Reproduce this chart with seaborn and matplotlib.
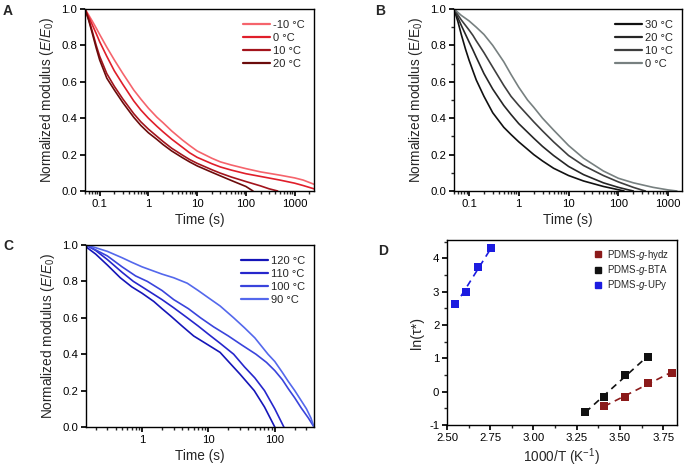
import matplotlib

matplotlib.use("Agg")
import matplotlib.pyplot as plt
from matplotlib.lines import Line2D
from matplotlib.ticker import LogLocator, MultipleLocator, FixedLocator, NullFormatter
import numpy as np
import pandas as pd
import seaborn as sns

# === Panel A: stress relaxation, PDMS-g-hydz ===
A_LABELS = ["-10 °C", "0 °C", "10 °C", "20 °C"]
A_COLORS = ["#f5646c", "#e01e2a", "#a3141c", "#6b0b0b"]
A_TIME = [
    [0.05, 0.06, 0.07, 0.085, 0.1, 0.14, 0.2, 0.3, 0.5, 0.7, 1, 1.5, 2, 3, 5, 7, 10, 20, 30, 50,
     100, 200, 500, 1000, 1500, 2500],
    [0.05, 0.06, 0.07, 0.085, 0.1, 0.14, 0.2, 0.3, 0.5, 0.7, 1, 1.5, 2, 3, 5, 7, 10, 20, 30, 50,
     100, 200, 500, 1000, 1500, 2500],
    [0.05, 0.06, 0.07, 0.085, 0.1, 0.14, 0.2, 0.3, 0.5, 0.7, 1, 1.5, 2, 3, 5, 7, 10, 20, 30, 50,
     100, 200, 300, 450],
    [0.05, 0.06, 0.07, 0.085, 0.1, 0.14, 0.2, 0.3, 0.5, 0.7, 1, 1.5, 2, 3, 5, 7, 10, 20, 30, 50,
     100, 140],
]
A_MOD = [
    [1.0, 0.965, 0.935, 0.895, 0.86, 0.79, 0.72, 0.645, 0.555, 0.505, 0.455, 0.405, 0.375, 0.33,
     0.28, 0.25, 0.22, 0.18, 0.16, 0.143, 0.123, 0.105, 0.087, 0.072, 0.06, 0.037],
    [1.0, 0.955, 0.915, 0.865, 0.82, 0.74, 0.66, 0.585, 0.495, 0.445, 0.40, 0.355, 0.325, 0.285,
     0.24, 0.21, 0.185, 0.15, 0.132, 0.115, 0.095, 0.08, 0.06, 0.043, 0.03, 0.012],
    [1.0, 0.94, 0.88, 0.80, 0.74, 0.645, 0.575, 0.505, 0.425, 0.38, 0.34, 0.30, 0.272, 0.235,
     0.197, 0.173, 0.152, 0.117, 0.098, 0.077, 0.052, 0.028, 0.012, 0.0],
    [1.0, 0.935, 0.87, 0.785, 0.72, 0.62, 0.555, 0.485, 0.405, 0.36, 0.32, 0.283, 0.255, 0.22,
     0.183, 0.16, 0.138, 0.103, 0.083, 0.058, 0.025, 0.0],
]

# === Panel B: PDMS-g-BTA ===
B_LABELS = ["30 °C", "20 °C", "10 °C", "0 °C"]
B_COLORS = ["#111111", "#262626", "#3e3e3e", "#778080"]
B_TIME = [
    [0.05, 0.06, 0.07, 0.085, 0.1, 0.12, 0.14, 0.2, 0.3, 0.5, 0.7, 1, 2, 3, 5, 10, 20, 50, 100, 130],
    [0.05, 0.07, 0.1, 0.12, 0.14, 0.2, 0.3, 0.5, 0.7, 1, 2, 3, 5, 10, 20, 50, 100, 150, 200],
    [0.05, 0.07, 0.1, 0.12, 0.14, 0.2, 0.3, 0.5, 0.7, 1, 2, 3, 5, 10, 20, 50, 100, 200, 300, 350],
    [0.05, 0.07, 0.1, 0.14, 0.2, 0.3, 0.5, 0.7, 1, 1.5, 2, 3, 5, 10, 20, 50, 100, 200, 500, 1000,
     1500],
]
B_MOD = [
    [1.0, 0.93, 0.86, 0.78, 0.72, 0.66, 0.61, 0.52, 0.43, 0.35, 0.31, 0.27, 0.20, 0.165, 0.125,
     0.085, 0.055, 0.025, 0.007, 0.0],
    [1.0, 0.91, 0.82, 0.775, 0.735, 0.645, 0.56, 0.47, 0.42, 0.37, 0.29, 0.245, 0.195, 0.135, 0.09,
     0.045, 0.02, 0.008, 0.0],
    [1.0, 0.94, 0.885, 0.855, 0.825, 0.76, 0.68, 0.58, 0.52, 0.47, 0.38, 0.33, 0.27, 0.195, 0.14,
     0.085, 0.05, 0.02, 0.005, 0.0],
    [1.0, 0.965, 0.935, 0.90, 0.86, 0.80, 0.71, 0.64, 0.57, 0.50, 0.46, 0.40, 0.335, 0.25, 0.18,
     0.11, 0.07, 0.045, 0.02, 0.006, 0.0],
]

# === Panel C: PDMS-g-UPy ===
C_LABELS = ["120 °C", "110 °C", "100 °C", "90 °C"]
C_COLORS = ["#1515b8", "#2626cc", "#3a44dc", "#5468ec"]
C_TIME = [
    [0.143, 0.2, 0.3, 0.47, 0.7, 1, 1.5, 2, 2.7, 4, 6, 10, 15, 20, 30, 49, 70, 100],
    [0.143, 0.2, 0.3, 0.5, 0.74, 1, 2, 3, 4.8, 7, 10, 15, 24, 35, 50, 70, 100, 137],
    [0.143, 0.3, 0.5, 0.8, 1.2, 2, 3, 5, 7.6, 12, 20, 32, 52, 75, 100, 130, 160, 200, 250, 320, 390],
    [0.143, 0.2, 0.3, 0.5, 0.7, 1, 2, 3, 4.8, 7, 10, 15, 24, 35, 50, 79, 100, 130, 160, 200, 250,
     300, 350, 390],
]
C_MOD = [
    [0.99, 0.95, 0.89, 0.82, 0.77, 0.735, 0.69, 0.65, 0.61, 0.555, 0.50, 0.45, 0.41, 0.36, 0.29,
     0.20, 0.11, 0.0],
    [1.0, 0.97, 0.92, 0.85, 0.80, 0.77, 0.70, 0.655, 0.60, 0.555, 0.51, 0.46, 0.40, 0.33, 0.27,
     0.20, 0.10, 0.0],
    [1.0, 0.94, 0.88, 0.83, 0.80, 0.75, 0.70, 0.65, 0.60, 0.55, 0.50, 0.45, 0.40, 0.355, 0.31,
     0.26, 0.21, 0.16, 0.105, 0.05, 0.0],
    [1.0, 0.985, 0.965, 0.93, 0.905, 0.88, 0.84, 0.82, 0.79, 0.75, 0.71, 0.665, 0.60, 0.545, 0.49,
     0.40, 0.36, 0.30, 0.25, 0.20, 0.145, 0.10, 0.05, 0.0],
]

# === Panel D: Arrhenius plot ===
D_LABELS = ["PDMS-$\\mathit{g}$-hydz", "PDMS-$\\mathit{g}$-BTA", "PDMS-$\\mathit{g}$-UPy"]
D_COLORS = ["#8b1a1a", "#111111", "#1c1ce0"]
D_X = [
    [3.41, 3.53, 3.66, 3.80],
    [3.30, 3.41, 3.53, 3.66],
    [2.545, 2.61, 2.68, 2.755],
]
D_Y = [
    [-0.43, -0.16, 0.27, 0.57],
    [-0.60, -0.16, 0.50, 1.05],
    [2.62, 3.00, 3.75, 4.30],
]

W, H = 686, 468
TICK_FS = 8.2
LABEL_FS = 9.8

sns.set_theme(style="ticks")
plt.rcParams["font.family"] = ["Liberation Sans", "DejaVu Sans"]
plt.rcParams["mathtext.fontset"] = "custom"
plt.rcParams["mathtext.rm"] = "Liberation Sans"
plt.rcParams["mathtext.it"] = "Liberation Sans:italic"
plt.rcParams["axes.unicode_minus"] = False
plt.rcParams["axes.linewidth"] = 1.0
plt.rcParams["xtick.major.size"] = 3.5
plt.rcParams["ytick.major.size"] = 3.5
plt.rcParams["xtick.minor.size"] = 2
plt.rcParams["ytick.minor.size"] = 2

fig = plt.figure(figsize=(W / 100, H / 100), dpi=100)


def add_axes(left, right, top, bottom):
    return fig.add_axes([left / W, 1 - bottom / H, (right - left) / W, (bottom - top) / H])


def style_box(ax):
    for side in ["top", "right"]:
        ax.spines[side].set_visible(True)
    ax.tick_params(axis="both", labelsize=TICK_FS, colors="black", pad=2)
    for sp in ax.spines.values():
        sp.set_color("black")


def relax_panel(ax, times, mods, labels, colors, xlim, ylabel, y_minor=False):
    for t, m, lab, col in zip(times, mods, labels, colors):
        df = pd.DataFrame({"time": t, "mod": m})
        sns.lineplot(data=df, x="time", y="mod", color=col, lw=1.2, ax=ax,
                     label=lab, sort=False, legend=False)
    ax.set_xscale("log")
    ax.set_xlim(*xlim)
    ax.set_ylim(0, 1.0)
    ax.yaxis.set_major_locator(MultipleLocator(0.2))
    if y_minor:
        ax.yaxis.set_minor_locator(MultipleLocator(0.1))
    ax.xaxis.set_major_locator(LogLocator(base=10))
    ax.xaxis.set_minor_locator(LogLocator(base=10, subs=np.arange(2, 10)))
    ax.xaxis.set_minor_formatter(NullFormatter())
    ax.xaxis.set_major_formatter(matplotlib.ticker.FuncFormatter(lambda v, p: f"{v:g}"))
    ax.set_xlabel("Time (s)", fontsize=LABEL_FS, labelpad=3)
    ax.set_ylabel(ylabel, fontsize=LABEL_FS, labelpad=4)
    style_box(ax)
    handles = [Line2D([], [], color=c, lw=1.6) for c in colors]
    ax.legend(handles, labels, loc="upper right", frameon=False, fontsize=8,
              handlelength=2.4, handletextpad=0.3, labelspacing=0.28,
              borderaxespad=0.4, bbox_to_anchor=(1.0, 0.99))


ax_a = add_axes(85, 314, 9, 191)
relax_panel(ax_a, A_TIME, A_MOD, A_LABELS, A_COLORS, (0.05, 2500),
            r"Normalized modulus ($\mathit{E}$/$\mathit{E}_0$)")

ax_b = add_axes(454, 682, 9, 191)
relax_panel(ax_b, B_TIME, B_MOD, B_LABELS, B_COLORS, (0.05, 1900),
            r"Normalized modulus (E/E$_0$)", y_minor=True)

ax_c = add_axes(86, 314, 245, 427)
relax_panel(ax_c, C_TIME, C_MOD, C_LABELS, C_COLORS, (0.143, 390),
            r"Normalized modulus ($\mathit{E}$/$\mathit{E}_0$)")

ax_d = add_axes(447, 677, 240, 425)
for xs, ys, lab, col in zip(D_X, D_Y, D_LABELS, D_COLORS):
    df = pd.DataFrame({"x": xs, "y": ys})
    sns.regplot(data=df, x="x", y="y", ax=ax_d, scatter=False, ci=None, color=col,
                line_kws=dict(ls=(0, (4, 3)), lw=1.2))
    sns.scatterplot(data=df, x="x", y="y", ax=ax_d, marker="s", s=26, color=col,
                    edgecolor=col, linewidth=0, label=lab, legend=False, zorder=3)
ax_d.set_xlim(2.5, 3.83)
ax_d.set_ylim(-1, 4.55)
ax_d.xaxis.set_major_locator(FixedLocator([2.5, 2.75, 3.0, 3.25, 3.5, 3.75]))
ax_d.xaxis.set_major_formatter(matplotlib.ticker.FormatStrFormatter("%.2f"))
ax_d.xaxis.set_minor_locator(MultipleLocator(0.125))
ax_d.yaxis.set_major_locator(MultipleLocator(1))
ax_d.yaxis.set_minor_locator(MultipleLocator(0.5))
ax_d.set_xlabel(r"1000/T (K$^{-1}$)", fontsize=LABEL_FS, labelpad=3)
ax_d.set_ylabel("ln(τ*)", fontsize=LABEL_FS + 0.5, labelpad=4)
style_box(ax_d)
d_handles = [Line2D([], [], color=c, marker="s", ls="", markersize=4.5) for c in D_COLORS]
ax_d.legend(d_handles, D_LABELS, loc="upper right", frameon=False, fontsize=7,
            handletextpad=0.2, labelspacing=0.12, borderaxespad=0.4, handlelength=1.5)

for txt, x, y in [("A", 3, 4), ("B", 375, 4), ("C", 3, 239), ("D", 378, 244)]:
    fig.text(x / W, 1 - y / H, txt, fontsize=10, fontweight="bold", va="top", ha="left")

fig.savefig("out.png", dpi=100)
